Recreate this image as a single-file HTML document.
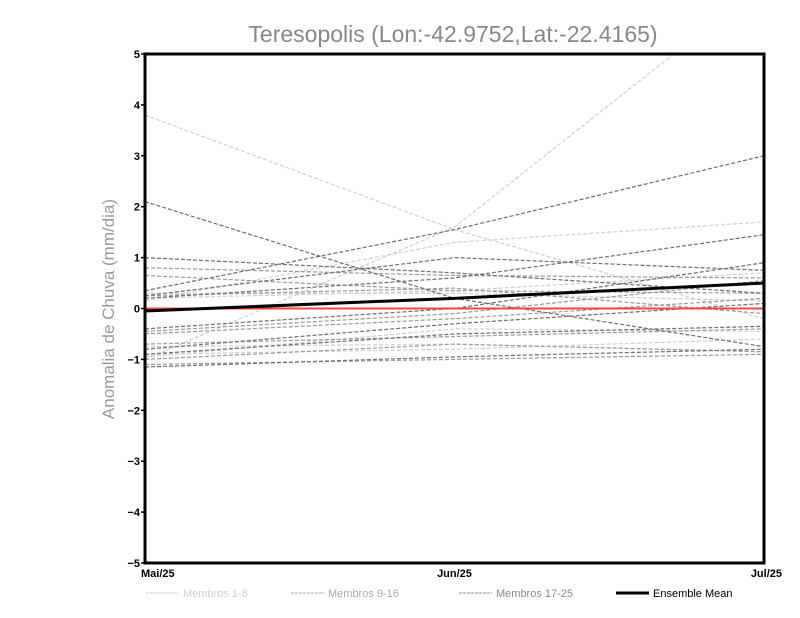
<!DOCTYPE html>
<html><head><meta charset="utf-8"><style>
body{margin:0;background:#fff}
svg{display:block;font-family:"Liberation Sans",sans-serif}
</style></head><body>
<svg id="c" width="800" height="618">
<text x="453" y="42" text-anchor="middle" font-size="23" fill="#888">Teresopolis (Lon:-42.9752,Lat:-22.4165)</text>
<text transform="translate(114,309) rotate(-90)" text-anchor="middle" font-size="17" fill="#999">Anomalia de Chuva (mm/dia)</text>
<g id="plot"></g>
</svg>
<script>
const categories=["Mai/25","Jun/25","Jul/25"];
const yTicks=[-5,-4,-3,-2,-1,0,1,2,3,4,5];
const light=[[3.8,1.55,-0.2],[-1.0,1.6,6.4],[0.15,1.3,1.7],[0.2,0.35,0.7],[-0.75,-0.7,-0.85],[-0.9,-0.8,-0.6],[-0.95,-0.4,-0.45],[0.3,0.3,0.15]];
const mid=[[0.8,0.65,0.6],[0.65,0.35,0.3],[-0.45,-0.1,0.55],[-0.5,-0.2,0.2],[-1.0,-0.7,-0.85],[0.25,0.4,-0.1],[-0.7,-0.55,-0.4],[-1.1,-1.0,-0.9]];
const dark=[[2.1,0.2,-0.75],[0.35,1.55,3.0],[1.0,0.7,0.3],[0.25,1.0,0.75],[0.2,0.6,1.45],[-0.4,0.0,0.9],[-0.8,-0.3,0.1],[-0.9,-0.5,-0.35],[-1.15,-0.95,-0.8]];
const mean=[-0.05,0.2,0.5];
const zero=[0,0,0];
const X0=145,X1=764,Y0=54,Y1=563;
const xs=i=>X0+(X1-X0)*i/(categories.length-1);
const ys=v=>Y1-(v+5)/10*(Y1-Y0);
const ns="http://www.w3.org/2000/svg";
const g=document.getElementById('plot');
function mk(t,a){const e=document.createElementNS(ns,t);for(const k in a)e.setAttribute(k,a[k]);g.appendChild(e);return e;}
const cp=mk('clipPath',{id:'clip'});cp.appendChild(Object.assign(document.createElementNS(ns,'rect'),{}));
cp.firstChild.setAttribute('x',X0);cp.firstChild.setAttribute('y',Y0);cp.firstChild.setAttribute('width',X1-X0);cp.firstChild.setAttribute('height',Y1-Y0);
function series(arr,col,name,w,dash){arr.forEach((s,k)=>{
const e=mk('polyline',{points:s.map((v,i)=>xs(i)+','+ys(v)).join(' '),fill:'none',stroke:col,'stroke-width':w,'clip-path':'url(#clip)'});
if(dash)e.setAttribute('stroke-dasharray',dash);

});}
series(light,'#cfcfcf','member-light',1.2,'4,2');
series(mid,'#9a9a9a','member-mid',1.2,'4,2');
series(dark,'#6e6e6e','member-dark',1.2,'4,2');
series([zero],'#f04848','zero-line',2,null);
series([mean],'#000','ensemble-mean',3,null);
const fr=mk('rect',{x:X0,y:Y0,width:X1-X0,height:Y1-Y0,fill:'none',stroke:'#000','stroke-width':3});


yTicks.forEach(v=>{const t=mk('text',{x:X0-5,y:ys(v)+4,'text-anchor':'end','font-size':11,'font-weight':'bold',fill:'#000'});t.textContent=v===0?'0':(v<0?'\u2212'+(-v):v);


mk('line',{x1:X0-4,x2:X0,y1:ys(v),y2:ys(v),stroke:'#000','stroke-width':1.5});});
categories.forEach((c,i)=>{const anc=i===0?'start':(i===categories.length-1?'end':'middle');
const t=mk('text',{x:xs(i)+(i===0?-4:i===2?18:0),y:Y1+14,'text-anchor':anc,'font-size':11,'font-weight':'bold',fill:'#000'});t.textContent=c;

});
const leg=[["Membros 1-8","#cfcfcf",146,1,"3,1"],["Membros 9-16","#aaa",291,1,"3,1"],["Membros 17-25","#888",459,1,"3,1"],["Ensemble Mean","#000",616,3,null]];
leg.forEach(l=>{const ln=mk('line',{x1:l[2],x2:l[2]+33,y1:593,y2:593,stroke:l[1],'stroke-width':l[3]});if(l[4])ln.setAttribute('stroke-dasharray',l[4]);
const t=mk('text',{x:l[2]+37,y:597,'font-size':11,fill:l[0]==="Ensemble Mean"?'#000':l[1]});t.textContent=l[0];

});
</script>
</body></html>
